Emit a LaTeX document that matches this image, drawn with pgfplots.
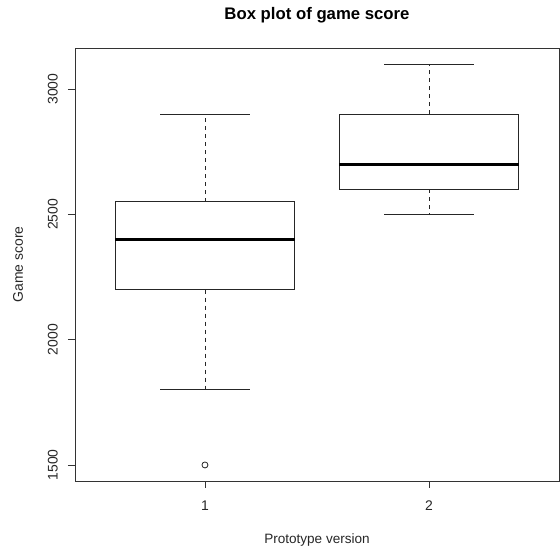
\documentclass[border=0pt]{standalone}
\usepackage{pgfplots}
\pgfplotsset{compat=1.18}
\usepackage{fontspec}
\setmainfont{Liberation Sans}
\begin{document}
\begin{tikzpicture}
\begin{axis}[
  scale only axis,
  width=484bp, height=433bp,
  xmin=0.42, xmax=2.58,
  ymin=1436, ymax=3164,
  xtick={1,2}, ytick={1500,2000,2500,3000},
  axis line style={line width=0.8bp, black!80},
  tick style={line width=0.8bp, black!80},
  tick align=outside,
  major tick length=7bp,
  xtick pos=bottom, ytick pos=left,
  /pgf/number format/assume math mode=true,
  /pgf/number format/set thousands separator={},
  tick label style={font=\fontsize{14}{16}\selectfont, text=black!85},
  xticklabel style={yshift=-9bp},
  yticklabel style={rotate=90, anchor=south, inner ysep=10bp},
  clip=false,
  box/.style={black!85, line width=0.8bp, mark=none},
  med/.style={black, line width=2.8bp, mark=none},
  whisk/.style={black!85, line width=0.8bp, mark=none, dash pattern=on 4bp off 4bp},
]
% Prototype 1: whiskers 1800-2900, Q1 2200, median 2400, Q3 2550, outlier 1500
\addplot[box] coordinates {(0.6,2200) (1.4,2200) (1.4,2550) (0.6,2550) (0.6,2200)};
\addplot[med] coordinates {(0.6,2400) (1.4,2400)};
\addplot[whisk] coordinates {(1,2550) (1,2900)};
\addplot[whisk] coordinates {(1,2200) (1,1800)};
\addplot[box] coordinates {(0.8,2900) (1.2,2900)};
\addplot[box] coordinates {(0.8,1800) (1.2,1800)};
\addplot[only marks, mark=o, mark size=3bp, mark options={black!85, line width=0.8bp}] coordinates {(1,1500)};
% Prototype 2: whiskers 2500-3100, Q1 2600, median 2700, Q3 2900
\addplot[box] coordinates {(1.6,2600) (2.4,2600) (2.4,2900) (1.6,2900) (1.6,2600)};
\addplot[med] coordinates {(1.6,2700) (2.4,2700)};
\addplot[whisk] coordinates {(2,2900) (2,3100)};
\addplot[whisk] coordinates {(2,2600) (2,2500)};
\addplot[box] coordinates {(1.8,3100) (2.2,3100)};
\addplot[box] coordinates {(1.8,2500) (2.2,2500)};
\end{axis}
\node[font=\fontsize{16.8}{19}\selectfont\bfseries, text=black] at ([yshift=33bp]current axis.north) {Box plot of game score};
\node[font=\fontsize{13.6}{16}\selectfont, text=black!85] at ([yshift=-59bp]current axis.south) {Prototype version};
\node[font=\fontsize{14}{16}\selectfont, text=black!85, rotate=90] at ([xshift=-57bp]current axis.west) {Game score};
\path ([shift={(-75bp,-71bp)}]current axis.south west) rectangle ([shift={(1bp,48bp)}]current axis.north east);
\end{tikzpicture}
\end{document}
